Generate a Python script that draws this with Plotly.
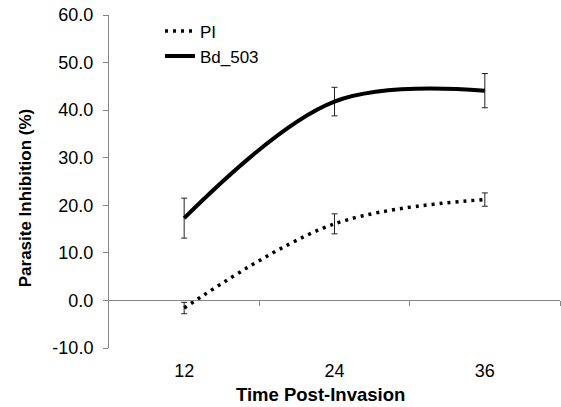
import plotly.graph_objects as go

categories = ["12", "24", "36"]
pi_values = [-1.6, 16.1, 21.2]
pi_err = [1.2, 2.1, 1.4]
bd_values = [17.3, 41.8, 44.1]
bd_err = [4.2, 3.0, 3.6]
y_ticks = [-10, 0, 10, 20, 30, 40, 50, 60]
y_ticklabels = [f"{v:.1f}" for v in y_ticks]

xpos = list(range(len(categories)))
FONT = "Liberation Sans, Arial, sans-serif"
GRAY = "#868686"

fig = go.Figure()
fig.add_trace(go.Scatter(
    x=xpos, y=pi_values, name="PI", mode="lines",
    line=dict(color="black", width=3.5, dash="3px,5px", shape="spline", smoothing=1),
    error_y=dict(type="data", array=pi_err, visible=True, color="#222", thickness=1, width=3),
))
fig.add_trace(go.Scatter(
    x=xpos, y=bd_values, name="Bd_503", mode="lines",
    line=dict(color="black", width=4, shape="spline", smoothing=1),
    error_y=dict(type="data", array=bd_err, visible=True, color="#222", thickness=1, width=3),
))
# invisible trace to carry the zero-line axis with boundary ticks
fig.add_trace(go.Scatter(x=[xpos[0]], y=[0], xaxis="x2", mode="markers",
                         marker=dict(opacity=0), showlegend=False, hoverinfo="skip"))

ymin, ymax = y_ticks[0], y_ticks[-1]
fig.update_layout(
    width=561, height=407,
    margin=dict(l=109, r=1, t=15, b=59, autoexpand=False),
    paper_bgcolor="white", plot_bgcolor="white",
    font=dict(family=FONT, color="black", size=17),
    showlegend=True,
    legend=dict(x=0.113, y=1.005, xanchor="left", yanchor="top",
                font=dict(size=17, family=FONT), bgcolor="rgba(0,0,0,0)",
                tracegroupgap=0),
    xaxis=dict(range=[-0.5, 2.5], tickvals=xpos, ticktext=categories,
               showline=False, ticks="outside", ticklen=6, tickcolor="rgba(0,0,0,0)",
               showgrid=False, zeroline=False,
               automargin=False, tickfont=dict(size=18)),
    xaxis2=dict(overlaying="x", anchor="free", position=(0 - ymin) / (ymax - ymin),
                range=[-0.5, 2.5], tickvals=[0.5, 1.5, 2.5], showticklabels=False,
                ticks="outside", ticklen=5, tickcolor=GRAY, showline=True, automargin=False,
                linecolor=GRAY, linewidth=1, showgrid=False, zeroline=False, side="bottom"),
    yaxis=dict(range=[ymin, ymax], tickvals=y_ticks, ticktext=y_ticklabels,
               showline=True, linecolor=GRAY, linewidth=1, ticks="outside",
               ticklen=5, tickcolor=GRAY, showgrid=False, zeroline=False,
               automargin=False, tickfont=dict(size=18), ticklabelstandoff=6),
    annotations=[
        dict(text="<b>Time Post-Invasion</b>", xref="paper", yref="paper",
             x=0.47, y=-0.141, xanchor="center", yanchor="middle", showarrow=False,
             font=dict(size=18.5, family=FONT, color="black")),
        dict(text="<b>Parasite Inhibition (%)</b>", xref="paper", yref="paper",
             x=-0.186, y=0.45, xanchor="center", yanchor="middle", showarrow=False,
             textangle=-90, font=dict(size=17, family=FONT, color="black")),
    ],
)

fig.write_html("out.html", config={"displayModeBar": False},
               post_script="document.body.style.margin='0';")
